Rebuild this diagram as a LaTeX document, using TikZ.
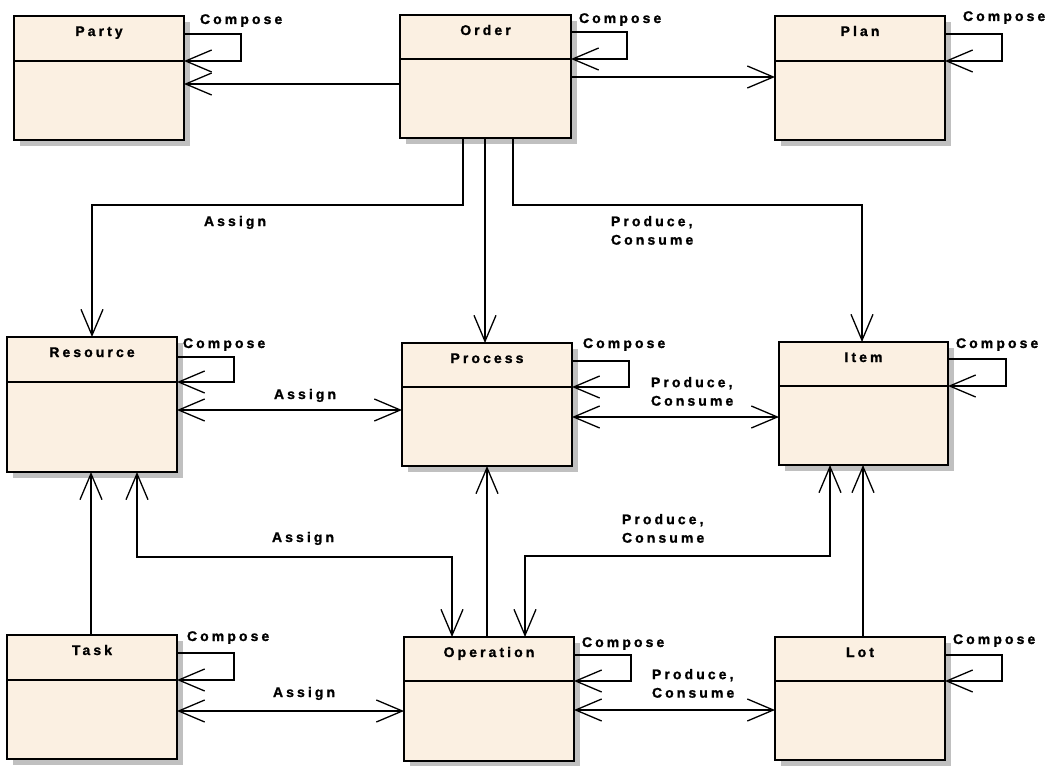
\documentclass[tikz,border=0pt]{standalone}
\usepackage{fontspec}
\newfontfamily\lblfont{Liberation Sans}[UprightFont={* Bold}, BoldFont={* Bold}, LetterSpace=22, FakeBold=1.2]
\usetikzlibrary{arrows.meta,shadows}
\definecolor{boxfill}{RGB}{251,240,226}
\definecolor{shadowgray}{RGB}{192,192,192}
\tikzset{
  clsbox/.style={draw=black, line width=1.6pt, fill=boxfill, inner sep=0pt, outer sep=0pt,
    drop shadow={shadow xshift=6pt, shadow yshift=-6pt, fill=shadowgray, opacity=1}},
  clsline/.style={draw=black, line width=1.6pt},
  txt/.style={font=\lblfont\fontsize{14}{18.5}\selectfont, inner sep=0pt, outer sep=0pt},
  assoc/.style={draw=black, line width=1.3pt},
  >={Straight Barb[length=26pt,width=22pt]},
}
\newcommand\umlclass[7]{%
  \node[clsbox, minimum width={(#4-#2)*1pt}, minimum height={(#5-#3)*1pt}, anchor=north west] (#1) at (#2,#3) {};
  \draw[clsline] (#1.west |- 0,#6) -- (#1.east |- 0,#6);
  \node[txt, anchor=base] (#1-name) at ([yshift=-20pt]#1.north) {#7};
}
\begin{document}
\begin{tikzpicture}[x=1pt,y=-1pt]
\useasboundingbox (0,0) rectangle (1048,765);
% classes
\umlclass{party}{14}{16}{184}{140}{61}{Party}
\umlclass{order}{400}{15}{571}{138}{59}{Order}
\umlclass{plan}{775}{16}{945}{140}{61}{Plan}
\umlclass{resource}{7}{337}{177}{472}{382}{Resource}
\umlclass{process}{402}{343}{572}{466}{387}{Process}
\umlclass{item}{779}{342}{948}{465}{386}{Item}
\umlclass{task}{7}{635}{177}{759}{680}{Task}
\umlclass{operation}{404}{637}{574}{761}{681}{Operation}
\umlclass{lot}{775}{637}{945}{760}{681}{Lot}

% self compositions
\draw[assoc,->] (party.east |- 0,34) -- ++(57,0) -- ++(0,27) -- (party.east |- 0,61);
\draw[assoc,->] (order.east |- 0,32) -- ++(56,0) -- ++(0,27) -- (order.east |- 0,59);
\draw[assoc,->] (plan.east |- 0,34) -- ++(57,0) -- ++(0,27) -- (plan.east |- 0,61);
\draw[assoc,->] (resource.east |- 0,357) -- ++(57,0) -- ++(0,25) -- (resource.east |- 0,382);
\draw[assoc,->] (process.east |- 0,361) -- ++(57,0) -- ++(0,26) -- (process.east |- 0,387);
\draw[assoc,->] (item.east |- 0,359) -- ++(58,0) -- ++(0,27) -- (item.east |- 0,386);
\draw[assoc,->] (task.east |- 0,653) -- ++(57,0) -- ++(0,27) -- (task.east |- 0,680);
\draw[assoc,->] (operation.east |- 0,655) -- ++(57,0) -- ++(0,26) -- (operation.east |- 0,681);
\draw[assoc,->] (lot.east |- 0,655) -- ++(57,0) -- ++(0,26) -- (lot.east |- 0,681);

% compose labels
\node[txt, anchor=base west] (lc-party) at (200,24) {Compose};
\node[txt, anchor=base west] (lc-order) at (579,23) {Compose};
\node[txt, anchor=base west] (lc-plan) at (963,21) {Compose};
\node[txt, anchor=base west] (lc-resource) at (183,348) {Compose};
\node[txt, anchor=base west] (lc-process) at (583,348) {Compose};
\node[txt, anchor=base west] (lc-item) at (956,348) {Compose};
\node[txt, anchor=base west] (lc-task) at (187,641) {Compose};
\node[txt, anchor=base west] (lc-operation) at (582,647) {Compose};
\node[txt, anchor=base west] (lc-lot) at (953,644) {Compose};

% associations
\draw[assoc,->] (order.west |- 0,84) -- (party.east |- 0,84);
\draw[assoc,->] (order.east |- 0,77) -- (plan.west |- 0,77);
\draw[assoc,->] (order.south -| 463,0) -- (463,205) -| (resource.north -| 92,0);
\draw[assoc,->] (order.south -| 485,0) -- (process.north -| 485,0);
\draw[assoc,->] (order.south -| 513,0) -- (513,205) -| (item.north -| 862,0);
\draw[assoc,<->] (resource.east |- 0,410) -- (process.west |- 0,410);
\draw[assoc,<->] (process.east |- 0,417) -- (item.west |- 0,417);
\draw[assoc,->] (task.north -| 91,0) -- (resource.south -| 91,0);
\draw[assoc,<->] (resource.south -| 137,0) -- (137,557) -| (operation.north -| 452,0);
\draw[assoc,->] (operation.north -| 487,0) -- (process.south -| 487,0);
\draw[assoc,<->] (operation.north -| 525,0) -- (525,556) -| (item.south -| 830,0);
\draw[assoc,->] (lot.north -| 863,0) -- (item.south -| 863,0);
\draw[assoc,<->] (task.east |- 0,711) -- (operation.west |- 0,711);
\draw[assoc,<->] (operation.east |- 0,710) -- (lot.west |- 0,710);

% association labels
\node[txt, anchor=base west] (l-or) at (204,226) {Assign};
\node[txt, anchor=north west, align=left] (l-oi) at (611,216) {Produce,\\Consume};
\node[txt, anchor=base west] (l-rp) at (274,399) {Assign};
\node[txt, anchor=north west, align=left] (l-pi) at (651,377) {Produce,\\Consume};
\node[txt, anchor=base west] (l-ro) at (272,542) {Assign};
\node[txt, anchor=north west, align=left] (l-opi) at (622,514) {Produce,\\Consume};
\node[txt, anchor=base west] (l-to) at (273,697) {Assign};
\node[txt, anchor=north west, align=left] (l-ol) at (652,669) {Produce,\\Consume};
\end{tikzpicture}
\end{document}
